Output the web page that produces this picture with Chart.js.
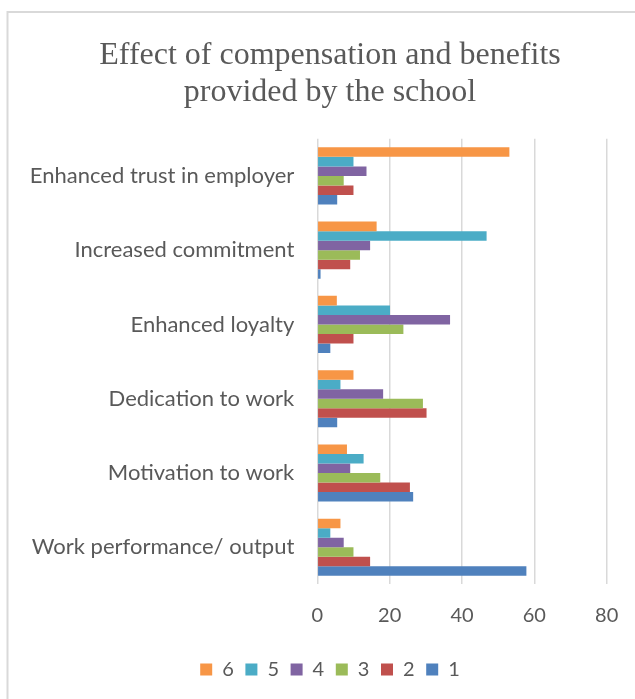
<!DOCTYPE html>
<html>
<head>
<meta charset="utf-8">
<script src="https://cdn.jsdelivr.net/npm/chart.js@4/dist/chart.umd.min.js"></script>
<style>
  html, body { margin: 0; padding: 0; background: #ffffff; }
  #wrap { position: relative; width: 635px; height: 699px; overflow: hidden; }
</style>
</head>
<body>
<div id="wrap"><canvas id="chart" width="640" height="699"></canvas></div>
<script>
// Categories, listed top to bottom
const categories = [
  "Enhanced trust in employer",
  "Increased commitment",
  "Enhanced loyalty",
  "Dedication to work",
  "Motivation to work",
  "Work performance/ output"
];

// Share of responses (%) for each rating, per category
const rating6 = [53.1, 16.4, 5.4, 10.0, 8.2, 6.4];
const rating5 = [10.0, 46.8, 20.1, 6.4, 12.8, 3.6];
const rating4 = [13.6, 14.6, 36.7, 18.2, 9.1, 7.3];
const rating3 = [7.3, 11.8, 23.8, 29.2, 17.4, 10.0];
const rating2 = [10.0, 9.1, 10.0, 30.2, 25.6, 14.6];
const rating1 = [5.5, 0.9, 3.6, 5.5, 26.5, 57.8];

const xTicks = [0, 20, 40, 60, 80];

const seriesNames = ["6", "5", "4", "3", "2", "1"];
const seriesValues = [rating6, rating5, rating4, rating3, rating2, rating1];
const seriesColors = ["#F79646", "#4BACC6", "#8064A2", "#9BBB59", "#C0504D", "#4F81BD"];

const textColor = "#595959";
const gridColor = "#D9D9D9";
const sansFont = "Lato, 'Open Sans', sans-serif";

// Light frame around the chart area
const framePlugin = {
  id: "frame",
  beforeDraw(chart) {
    const ctx = chart.ctx;
    ctx.save();
    ctx.fillStyle = "#ffffff";
    ctx.fillRect(0, 0, chart.width, chart.height);
    ctx.strokeStyle = gridColor;
    ctx.lineWidth = 2;
    ctx.beginPath();
    ctx.moveTo(7.5, chart.height + 5);
    ctx.lineTo(7.5, 12);
    ctx.lineTo(chart.width + 5, 12);
    ctx.stroke();
    ctx.restore();
  }
};

new Chart(document.getElementById("chart"), {
  type: "bar",
  data: {
    labels: categories,
    datasets: seriesNames.map((name, i) => ({
      label: name,
      data: seriesValues[i],
      backgroundColor: seriesColors[i],
      borderWidth: 0,
      categoryPercentage: 0.77,
      barPercentage: 1.0
    }))
  },
  options: {
    indexAxis: "y",
    responsive: false,
    animation: false,
    devicePixelRatio: 1,
    layout: { padding: { top: 0, left: 20, right: 0, bottom: 9.4 } },
    plugins: {
      title: {
        display: true,
        text: ["Effect of compensation and benefits", "provided by the school"],
        color: textColor,
        font: { family: "'Liberation Serif', 'Times New Roman', serif", size: 32, weight: "normal", lineHeight: 1.15 },
        padding: { top: 37.6, bottom: 27.6 }
      },
      legend: {
        position: "bottom",
        labels: {
          color: textColor,
          font: { family: sansFont, size: 20 },
          boxWidth: 12,
          boxHeight: 12,
          padding: 11.6
        }
      },
      tooltip: { enabled: false }
    },
    scales: {
      x: {
        min: 0,
        max: 80,
        afterBuildTicks(scale) { scale.ticks = xTicks.map(v => ({ value: v })); },
        afterFit(scale) { scale.height = 63.6; },
        ticks: {
          color: textColor,
          font: { family: sansFont, size: 20 },
          padding: 19
        },
        grid: { color: gridColor, lineWidth: 1.5, drawTicks: false },
        border: { display: false }
      },
      y: {
        afterFit(scale) { scale.width = 297.3; },
        ticks: {
          color: textColor,
          font: { family: sansFont, size: 22 },
          padding: 23
        },
        grid: { display: false, drawTicks: false },
        border: { display: false }
      },
      // Empty margin on the right side of the plot
      yRight: {
        type: "category",
        position: "right",
        afterFit(scale) { scale.width = 33.3; },
        ticks: { display: false },
        grid: { display: false, drawTicks: false },
        border: { display: false }
      }
    }
  },
  plugins: [framePlugin]
});
</script>
</body>
</html>
